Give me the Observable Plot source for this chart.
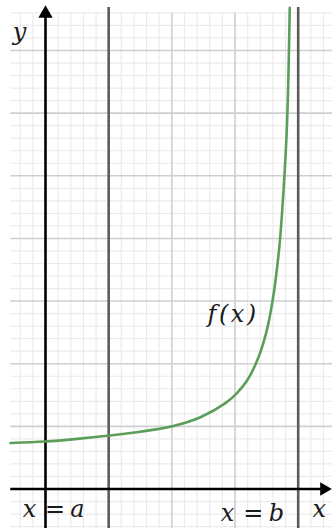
<!DOCTYPE html>
<html>
<head>
<meta charset="utf-8">
<script src="https://cdn.jsdelivr.net/npm/d3@7"></script>
<script src="https://cdn.jsdelivr.net/npm/@observablehq/plot@0.6"></script>
<style>
  html, body { margin: 0; padding: 0; background: #fff; }
  svg { display: block; }
</style>
</head>
<body>
<div id="chart"></div>
<script>
// f(x): sampled points of the curve (x in units, y in units)
const curveX = [-0.554, 0, 0.5, 1.013, 1.5, 2.009, 2.453, 2.848, 3.038, 3.196, 3.370, 3.5, 3.6, 3.7, 3.77, 3.825, 3.866];
const curveY = [0.734, 0.758, 0.80, 0.854, 0.915, 1.002, 1.146, 1.37, 1.54, 1.74, 2.10, 2.52, 3.04, 3.85, 4.8, 5.88, 7.68];

// bounds x = a and x = b
const bounds = [1, 4];

// grid extent in data units
const gridLeft = -0.55, gridRight = 4.6, gridBottom = -0.65, gridTop = 7.6;
const lineTop = 7.685;
const arrowX = 4.41, arrowY = 7.59;

// math labels
const labelText = ["y", "x", "=", "a", "x", "=", "b", "x", "f(x)"];
const labelX = [-0.41, -0.253, 0.15, 0.506, 2.88, 3.291, 3.655, 4.335, 2.951];
const labelY = [7.29, -0.327, -0.327, -0.327, -0.391, -0.391, -0.391, -0.327, 2.785];
const labelItalic = [true, true, false, true, true, false, true, true, true];

const curve = curveX.map((x, i) => ({x, y: curveY[i]}));
const labels = labelText.map((text, i) => ({text, x: labelX[i], y: labelY[i], italic: labelItalic[i]}));

const minorX = d3.range(-0.4, 4.61, 0.2).map(v => +v.toFixed(1)).filter(v => Math.abs(v - Math.round(v)) > 1e-6);
const minorY = d3.range(-0.6, 7.61, 0.2).map(v => +v.toFixed(1)).filter(v => Math.abs(v - Math.round(v)) > 1e-6);
const majorX = [2, 3];
const majorY = [1, 2, 3, 4, 5, 6, 7];

const plot = Plot.plot({
  width: 332,
  height: 528,
  margin: 0,
  x: {domain: [0, 4], range: [45, 297.7], axis: null},
  y: {domain: [0, 7], range: [488.5, 50], axis: null},
  style: {background: "#fff"},
  marks: [
    // minor grid
    Plot.ruleX(minorX, {y1: gridBottom, y2: gridTop, stroke: "#ebebeb", strokeWidth: 1.2}),
    Plot.ruleY(minorY, {x1: gridLeft, x2: gridRight, stroke: "#ebebeb", strokeWidth: 1.2}),
    // major grid
    Plot.ruleX(majorX, {y1: gridBottom, y2: gridTop, stroke: "#cfcfcf", strokeWidth: 1.6}),
    Plot.ruleY(majorY, {x1: gridLeft, x2: gridRight, stroke: "#cfcfcf", strokeWidth: 1.6}),
    // x = a, x = b
    Plot.ruleX(bounds, {y1: gridBottom, y2: lineTop, stroke: "#5c5c5c", strokeWidth: 2.6}),
    // axes
    Plot.ruleY([0], {x1: gridLeft, x2: arrowX, stroke: "#000", strokeWidth: 2.6}),
    Plot.ruleX([0], {y1: gridBottom, y2: arrowY, stroke: "#000", strokeWidth: 2.6}),
    Plot.dot([{x: 0, y: arrowY}], {x: "x", y: "y", symbol: "triangle", r: 5.3, fill: "#000", stroke: null}),
    Plot.dot([{x: arrowX, y: 0}], {x: "x", y: "y", symbol: "triangle", r: 5, rotate: 90, fill: "#000", stroke: null}),
    // f(x)
    Plot.line(curve, {x: "x", y: "y", curve: "catmull-rom", stroke: "#5a9e5a", strokeWidth: 2.6}),
    // labels
    Plot.text(labels.filter(d => d.italic), {x: "x", y: "y", text: "text", fontSize: 24, fontStyle: "italic", fill: "#1a1a1a"}),
    Plot.text(labels.filter(d => !d.italic), {x: "x", y: "y", text: "text", fontSize: 24, fill: "#1a1a1a"})
  ]
});

// serif math glyphs; a little extra spacing inside f(x)
const texts = d3.select(plot).selectAll("text")
  .style("font-family", "'DejaVu Serif', serif");
texts.filter(function() { return this.textContent === "f(x)"; })
  .attr("letter-spacing", "2.5px").attr("dx", "1.2px");

document.getElementById("chart").appendChild(plot);
</script>
</body>
</html>
